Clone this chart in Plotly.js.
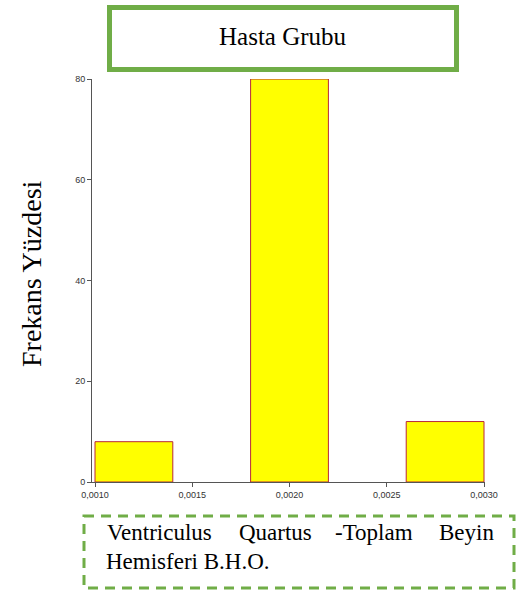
<!DOCTYPE html>
<html>
<head>
<meta charset="utf-8">
<script src="https://cdn.plot.ly/plotly-3.0.1.min.js"></script>
<style>html,body{margin:0;padding:0;background:#fff;}#chart{width:521px;height:595px;}</style>
</head>
<body>
<div id="chart"></div>
<script>
// Data
const binCenters = [0.0012, 0.0020, 0.0028];
const binWidth = [0.0004, 0.0004, 0.0004];
const freqPercent = [8, 80, 12];
const xTickVals = [0.0010, 0.0015, 0.0020, 0.0025, 0.0030];
const yTickVals = [0, 20, 40, 60, 80];
const chartTitle = "Hasta Grubu";
const yTitle = "Frekans Yüzdesi";
const xTitleLine1 = ["Ventriculus", "Quartus", "-Toplam", "Beyin"];
const xTitleLine2 = "Hemisferi B.H.O.";

// Layout geometry (pixels)
const W = 521, H = 595;
const L = 92, R = 485, T = 79, B = 482;
const px = x => (x - L) / (R - L);
const py = y => (B - y) / (B - T);
const green = "#70ad47";
const serif = "Liberation Serif, Times New Roman, serif";

const trace = {
  type: "bar",
  x: binCenters,
  y: freqPercent,
  width: binWidth,
  marker: {color: "#ffff00", line: {color: "#b8283a", width: 1}},
  hoverinfo: "skip"
};

const wordX = [105, 237, 333, 437];
const annotations = [
  {text: chartTitle, xref: "paper", yref: "paper", x: px(283), y: py(37), xanchor: "center", yanchor: "middle",
   showarrow: false, font: {family: serif, size: 25, color: "#000"}},
  {text: yTitle, xref: "paper", yref: "paper", x: px(31), y: py(274), xanchor: "center", yanchor: "middle",
   textangle: -90, showarrow: false, font: {family: serif, size: 28, color: "#000"}},
  {text: xTitleLine2, xref: "paper", yref: "paper", x: px(104), y: py(561), xanchor: "left", yanchor: "middle",
   showarrow: false, font: {family: serif, size: 23, color: "#000"}}
];
xTitleLine1.forEach((w, i) => annotations.push({
  text: w, xref: "paper", yref: "paper", x: px(wordX[i]), y: py(532), xanchor: "left", yanchor: "middle",
  showarrow: false, font: {family: serif, size: 23, color: "#000"}
}));

const layout = {
  width: W, height: H,
  margin: {l: L, r: W - R, t: T, b: H - B, pad: 0},
  paper_bgcolor: "#fff", plot_bgcolor: "#fff",
  separators: ",.",
  showlegend: false,
  bargap: 0,
  xaxis: {
    range: [0.0009846, 0.0030051], tickvals: xTickVals, tickformat: ".4f",
    showgrid: false, zeroline: false, showline: true, linecolor: "#555", linewidth: 1,
    ticks: "outside", ticklen: 4, tickcolor: "#555",
    tickfont: {family: "Liberation Sans, Arial, sans-serif", size: 9, color: "#333"}
  },
  yaxis: {
    range: [0, 80], tickvals: yTickVals,
    showgrid: false, zeroline: false, showline: true, linecolor: "#555", linewidth: 1,
    ticks: "outside", ticklen: 4, tickcolor: "#555",
    tickfont: {family: "Liberation Sans, Arial, sans-serif", size: 9, color: "#333"}
  },
  shapes: [
    {type: "rect", xref: "paper", yref: "paper", x0: px(109.5), x1: px(456.5), y0: py(7.5), y1: py(69.5),
     line: {color: green, width: 5}, fillcolor: "#fff", layer: "above"},
    {type: "rect", xref: "paper", yref: "paper", x0: px(84), x1: px(514), y0: py(516), y1: py(588),
     line: {color: green, width: 3, dash: "10px,7px"}, fillcolor: "rgba(0,0,0,0)", layer: "above"}
  ],
  annotations: annotations
};

Plotly.newPlot("chart", [trace], layout, {displayModeBar: false, staticPlot: true});
</script>
</body>
</html>
